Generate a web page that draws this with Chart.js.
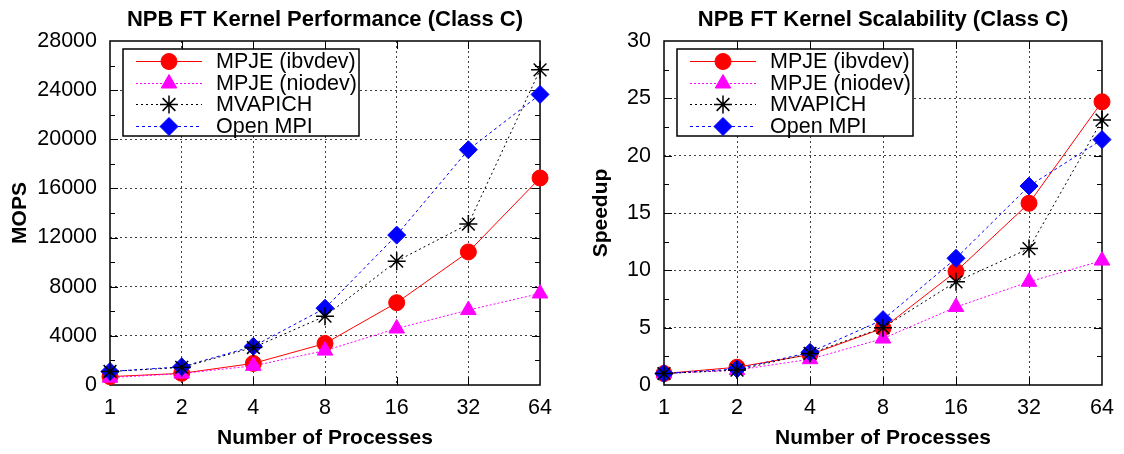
<!DOCTYPE html>
<html>
<head>
<meta charset="utf-8">
<script src="https://cdn.jsdelivr.net/npm/chart.js@4.4.1/dist/chart.umd.min.js"></script>
<style>
html, body { margin: 0; padding: 0; background: #fff; }
#wrap { position: relative; width: 1124px; height: 454px; }
.box { position: absolute; top: 0; width: 562px; height: 454px; }
</style>
</head>
<body>
<div id="wrap">
  <div class="box" style="left:0"><canvas id="perf"></canvas></div>
  <div class="box" style="left:562px"><canvas id="speedup"></canvas></div>
</div>
<script>
const processes = ['1', '2', '4', '8', '16', '32', '64'];
const seriesNames = ['MPJE (ibvdev)', 'MPJE (niodev)', 'MVAPICH', 'Open MPI'];

// MOPS (left chart)
const mopsIbvdev = [680, 950, 1760, 3380, 6700, 10830, 16850];
const mopsNiodev = [600, 930, 1560, 2800, 4600, 6100, 7450];
const mopsMvapich = [1100, 1430, 3050, 5600, 10080, 13100, 25650];
const mopsOpenMpi = [1100, 1480, 3150, 6250, 12200, 19150, 23650];

// Speedup (right chart)
const speedIbvdev = [1, 1.55, 2.65, 4.95, 9.9, 15.85, 24.7];
const speedNiodev = [1, 1.3, 2.25, 4.05, 6.8, 9.0, 10.85];
const speedMvapich = [1, 1.3, 2.75, 5.0, 9.0, 11.9, 23.1];
const speedOpenMpi = [1, 1.4, 2.85, 5.7, 11.05, 17.35, 21.4];

const styles = [
    { color: '#ff0000', dash: [], point: 'circle', radius: 8, order: 3 },
    { color: '#ff00ff', dash: [2, 2], point: 'triangle', radius: 9, order: 2 },
    { color: '#000000', dash: [2, 3], point: 'star', radius: 9, order: 0 },
    { color: '#0000ff', dash: [3, 3], point: 'rectRot', radius: 9, order: 1 }
];

const fontFamily = '"Liberation Sans", Arial, Helvetica, sans-serif';
Chart.defaults.font.family = fontFamily;
Chart.defaults.color = '#000';

const framePlugin = {
    id: 'frame',
    beforeDatasetsDraw(chart) {
        const { ctx, chartArea: a, scales: { x, y } } = chart;
        const step = chart.options.scales.y.ticks.stepSize;
        ctx.save();
        ctx.strokeStyle = '#000';
        ctx.lineWidth = 1;
        ctx.beginPath();
        y.ticks.forEach(t => {
            const py = Math.round(y.getPixelForValue(t.value)) + 0.5;
            if (t.value > y.min && t.value < y.max) {
                ctx.moveTo(a.left, py); ctx.lineTo(a.left + 8, py);
                ctx.moveTo(a.right, py); ctx.lineTo(a.right - 8, py);
            }
            const half = t.value + step / 2;
            if (half < y.max) {
                const pm = Math.round(y.getPixelForValue(half)) + 0.5;
                ctx.moveTo(a.left, pm); ctx.lineTo(a.left + 5, pm);
                ctx.moveTo(a.right, pm); ctx.lineTo(a.right - 5, pm);
            }
        });
        x.ticks.forEach((t, i) => {
            if (i === 0 || i === x.ticks.length - 1) return;
            const px = Math.round(x.getPixelForTick(i)) + 0.5;
            ctx.moveTo(px, a.bottom); ctx.lineTo(px, a.bottom - 8);
            ctx.moveTo(px, a.top); ctx.lineTo(px, a.top + 8);
        });
        ctx.stroke();
        ctx.lineWidth = 1.5;
        ctx.strokeRect(a.left, a.top, a.width, a.height);
        ctx.restore();
    }
};

function drawMarker(ctx, ds, x, y) {
    ctx.fillStyle = ds.pointBackgroundColor;
    ctx.strokeStyle = ds.pointBorderColor;
    ctx.lineWidth = ds.pointBorderWidth;
    Chart.helpers.drawPoint(ctx, {
        pointStyle: ds.pointStyle,
        radius: ds.pointRadius,
        borderWidth: ds.pointBorderWidth,
        rotation: 0
    }, x, y);
}

const legendPlugin = {
    id: 'boxLegend',
    afterDraw(chart) {
        const { ctx, chartArea: a } = chart;
        const bx = a.left + 13, by = a.top + 8, bw = 236, bh = 87;
        ctx.save();
        ctx.fillStyle = '#fff';
        ctx.fillRect(bx, by, bw, bh);
        ctx.lineWidth = 1.5;
        ctx.strokeStyle = '#000';
        ctx.strokeRect(bx, by, bw, bh);
        chart.data.datasets.forEach((ds, i) => {
            const cy = Math.round(by + 12 + i * 21.5) + 0.5;
            ctx.setLineDash(ds.borderDash);
            ctx.strokeStyle = ds.borderColor;
            ctx.lineWidth = ds.borderWidth;
            ctx.beginPath();
            ctx.moveTo(bx + 13, cy);
            ctx.lineTo(bx + 79, cy);
            ctx.stroke();
            ctx.setLineDash([]);
            drawMarker(ctx, ds, bx + 46, cy);
            ctx.fillStyle = '#000';
            ctx.font = '21.5px ' + fontFamily;
            ctx.textAlign = 'left';
            ctx.textBaseline = 'middle';
            ctx.fillText(ds.label, bx + 93, cy + 1);
        });
        ctx.restore();
    }
};

function makeChart(targetid, title, yTitle, series, yMax, yStep, yWidth, rightPad, yTitlePad) {
    const datasets = series.map((data, i) => ({
        label: seriesNames[i],
        data: data,
        borderColor: styles[i].color,
        backgroundColor: styles[i].color,
        borderWidth: 1,
        borderDash: styles[i].dash,
        pointStyle: styles[i].point,
        pointRadius: styles[i].radius,
        pointBackgroundColor: styles[i].color,
        pointBorderColor: styles[i].color,
        pointBorderWidth: styles[i].point === 'star' ? 1.5 : 1,
        order: styles[i].order,
        tension: 0,
        clip: false
    }));
    const hidden = 'rgba(0,0,0,0)';
    const gridColor = 'rgba(0,0,0,0.75)';
    return new Chart(document.getElementById(targetid), {
        type: 'line',
        data: { labels: processes, datasets: datasets },
        options: {
            responsive: true,
            maintainAspectRatio: false,
            animation: false,
            events: [],
            layout: { padding: { left: 0, top: 0, right: rightPad, bottom: 0 } },
            plugins: {
                legend: { display: false },
                tooltip: { enabled: false },
                title: {
                    display: true,
                    text: title,
                    fullSize: false,
                    color: '#000',
                    font: { size: 22, weight: 'bold' },
                    padding: { top: 6.3, bottom: 8.3 }
                }
            },
            scales: {
                x: {
                    type: 'category',
                    offset: false,
                    afterFit: s => { s.height = 69; },
                    grid: {
                        drawTicks: false,
                        lineWidth: 1,
                        color: c => (c.index === 0 || c.index === processes.length - 1) ? hidden : gridColor
                    },
                    border: { display: false, dash: [2, 3] },
                    ticks: { font: { size: 21.5 }, color: '#000', padding: 10, maxRotation: 0, autoSkip: false },
                    title: {
                        display: true,
                        text: 'Number of Processes',
                        color: '#000',
                        font: { size: 21, weight: 'bold' },
                        padding: { top: 0, bottom: 3.4 }
                    }
                },
                y: {
                    min: 0,
                    max: yMax,
                    afterFit: s => { s.width = yWidth; },
                    grid: {
                        drawTicks: false,
                        lineWidth: 1,
                        color: c => (c.tick.value === 0 || c.tick.value === yMax) ? hidden : gridColor
                    },
                    border: { display: false, dash: [2, 3] },
                    ticks: {
                        stepSize: yStep,
                        font: { size: 21.5 },
                        color: '#000',
                        padding: 13,
                        callback: v => String(v)
                    },
                    title: {
                        display: true,
                        text: yTitle,
                        color: '#000',
                        font: { size: 21, weight: 'bold' },
                        padding: { top: yTitlePad, bottom: 0 }
                    }
                }
            }
        },
        plugins: [framePlugin, legendPlugin]
    });
}

makeChart('perf', 'NPB FT Kernel Performance (Class C)', 'MOPS',
    [mopsIbvdev, mopsNiodev, mopsMvapich, mopsOpenMpi], 28000, 4000, 110, 14, 7.4);
makeChart('speedup', 'NPB FT Kernel Scalability (Class C)', 'Speedup',
    [speedIbvdev, speedNiodev, speedMvapich, speedOpenMpi], 30, 5, 102, 22, 26.4);
</script>
</body>
</html>
